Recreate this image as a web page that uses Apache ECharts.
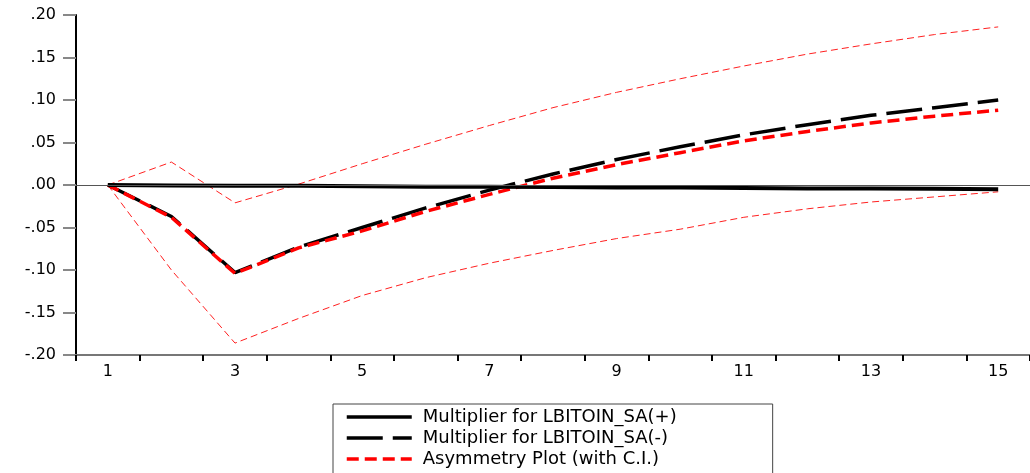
<!DOCTYPE html>
<html>
<head>
<meta charset="utf-8">
<script src="https://cdn.jsdelivr.net/npm/echarts@6/dist/echarts.min.js"></script>
<style>
html,body{margin:0;padding:0;background:#fff;}
#chart{width:1030px;height:473px;}
</style>
</head>
<body>
<div id="chart"></div>
<script>
// Horizon (periods)
const categories = ['1','2','3','4','5','6','7','8','9','10','11','12','13','14','15'];
// Multiplier for LBITOIN_SA(+)
const plusMultiplier = [0, -0.0005, -0.001, -0.001, -0.0015, -0.002, -0.002, -0.0025, -0.003, -0.003, -0.0035, -0.004, -0.004, -0.0045, -0.005];
// Multiplier for LBITOIN_SA(-)
const minusMultiplier = [0, -0.037, -0.103, -0.073, -0.050, -0.027, -0.006, 0.013, 0.030, 0.045, 0.059, 0.071, 0.082, 0.091, 0.100];
// Asymmetry plot
const asymmetry = [0, -0.038, -0.104, -0.074, -0.054, -0.031, -0.011, 0.008, 0.024, 0.038, 0.052, 0.063, 0.073, 0.081, 0.088];
// Confidence interval bounds
const upperCI = [0, 0.027, -0.021, 0.001, 0.025, 0.048, 0.070, 0.091, 0.109, 0.125, 0.140, 0.154, 0.166, 0.177, 0.186];
const lowerCI = [0, -0.100, -0.186, -0.157, -0.130, -0.109, -0.092, -0.077, -0.063, -0.052, -0.038, -0.028, -0.020, -0.014, -0.008];
// Legend labels
const legendLabels = ['Multiplier for LBITOIN_SA(+)', 'Multiplier for LBITOIN_SA(-)', 'Asymmetry Plot (with C.I.)'];

const FONT = 'DejaVu Sans';
const chart = echarts.init(document.getElementById('chart'));
const option = {
  animation: false,
  backgroundColor: '#fff',
  grid: { left: 76, right: -6, top: 15, bottom: 118, containLabel: false },
  legend: {
    data: legendLabels,
    orient: 'vertical',
    left: 333,
    top: 404,
    height: 150,
    itemWidth: 65,
    itemHeight: 14,
    itemGap: 3,
    padding: [4, 96, 6, 12],
    borderColor: '#444',
    borderWidth: 1,
    selectedMode: false,
    itemStyle: { opacity: 0 },
    lineStyle: { width: 3.5 },
    textStyle: { fontFamily: FONT, fontSize: 18, color: '#000', lineHeight: 17, padding: [0, 0, 0, 6] }
  },
  xAxis: {
    type: 'category',
    data: categories,
    boundaryGap: true,
    axisLine: { show: true, onZero: false, lineStyle: { color: '#777', width: 2 } },
    axisTick: { show: true, interval: 0, length: 6, lineStyle: { color: '#000', width: 2 } },
    axisLabel: { interval: 1, margin: 9, fontFamily: FONT, fontSize: 16, color: '#000' },
    splitLine: { show: false }
  },
  yAxis: {
    type: 'value',
    min: -0.2,
    max: 0.2,
    interval: 0.05,
    axisLine: { show: true, lineStyle: { color: '#000', width: 2 } },
    axisTick: { show: true, length: 13, lineStyle: { color: '#888', width: 2 } },
    axisLabel: {
      margin: 20, fontFamily: FONT, fontSize: 16, color: '#000',
      formatter: function (v) {
        const s = Math.abs(v).toFixed(2).replace(/^0/, '');
        return (v < -1e-9 ? '-' : '') + s;
      }
    },
    splitLine: { show: false }
  },
  series: [
    {
      name: 'Upper C.I.', type: 'line', data: upperCI, symbol: 'none', silent: true,
      lineStyle: { color: '#ff2020', width: 1, type: [7, 4] }
    },
    {
      name: 'Lower C.I.', type: 'line', data: lowerCI, symbol: 'none', silent: true,
      lineStyle: { color: '#ff2020', width: 1, type: [7, 4] }
    },
    {
      name: legendLabels[1], type: 'line', data: minusMultiplier, symbol: 'none',
      itemStyle: { color: '#000' },
      lineStyle: { color: '#000', width: 3.5, type: [36, 10] }
    },
    {
      name: legendLabels[2], type: 'line', data: asymmetry, symbol: 'none',
      itemStyle: { color: '#ff0000' },
      lineStyle: { color: '#ff0000', width: 3.5, type: [12, 6] }
    },
    {
      name: legendLabels[0], type: 'line', data: plusMultiplier, symbol: 'none',
      itemStyle: { color: '#000' },
      lineStyle: { color: '#000', width: 4 },
      markLine: {
        silent: true, symbol: 'none', label: { show: false },
        lineStyle: { color: '#555', width: 1, type: 'solid' },
        data: [{ yAxis: 0 }]
      }
    }
  ]
};
chart.setOption(option);
</script>
</body>
</html>
